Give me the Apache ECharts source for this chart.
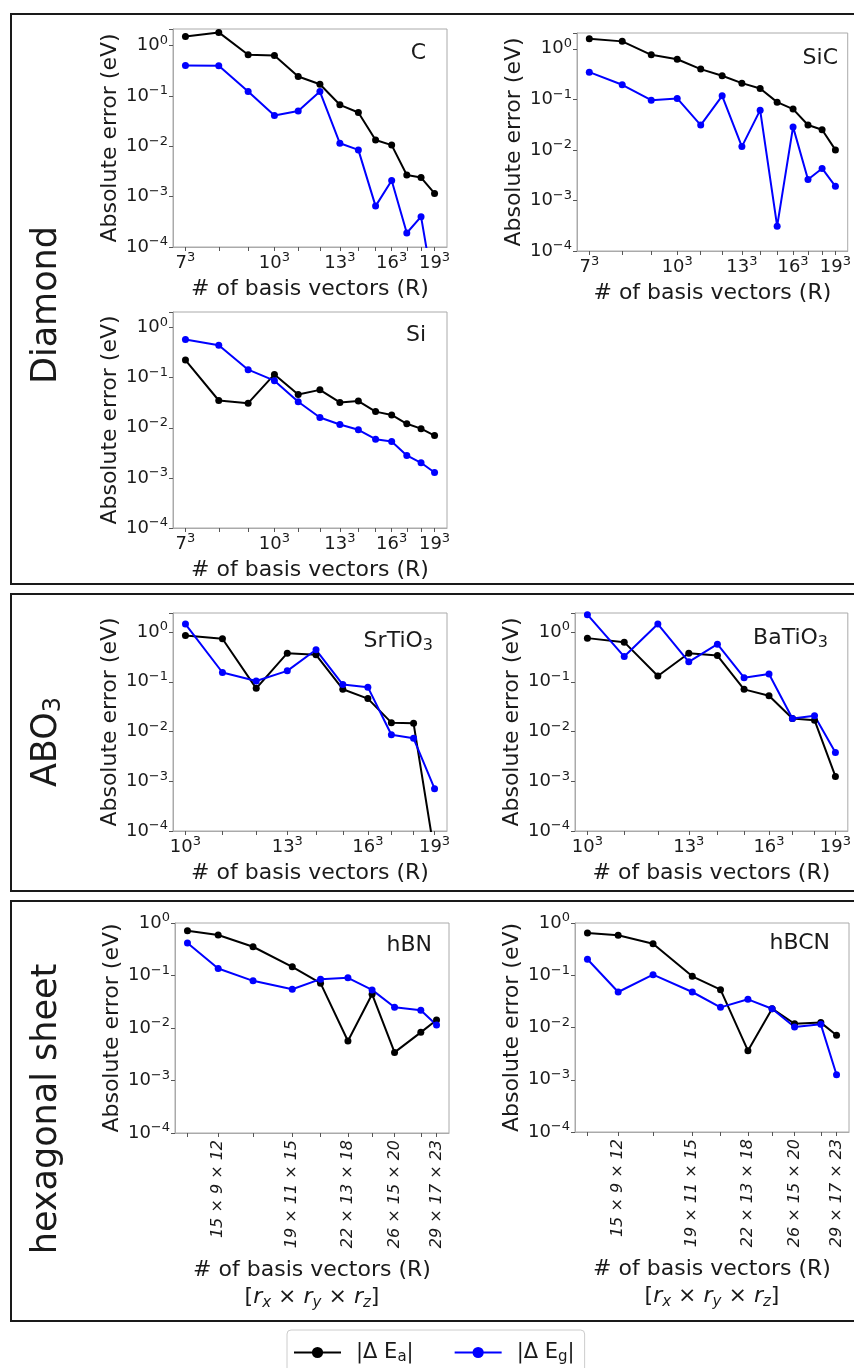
<!DOCTYPE html>
<html>
<head>
<meta charset="utf-8">
<script src="https://cdn.jsdelivr.net/npm/echarts@6/dist/echarts.min.js"></script>
<style>
  html, body { margin: 0; padding: 0; background: #fff; }
  #chart { width: 854px; height: 1368px; }
</style>
</head>
<body>
<div id="chart"></div>
<script>
// basis sizes: cubic cells use R = n^3
var diamondN = [7, 8, 9, 10, 11, 12, 13, 14, 15, 16, 17, 18, 19];
var diamondLabelN = [7, 10, 13, 16, 19];
var aboN = [10, 11, 12, 13, 14, 15, 16, 17, 18, 19];
var aboLabelN = [10, 13, 16, 19];
// hexagonal sheets use R = rx * ry * rz
var hexGrids = [[14, 8, 11], [15, 9, 12], [17, 10, 13], [19, 11, 15], [21, 12, 16],
                [22, 13, 18], [24, 14, 19], [26, 15, 20], [28, 16, 22], [29, 17, 23]];
var hexLabelIdx = [1, 3, 5, 7, 9];

// |dE_a| (black) and |dE_g| (blue), eV
var cEa = [1.53, 1.84, 0.66, 0.64, 0.245, 0.172, 0.067, 0.047, 0.0134, 0.0106, 0.0027, 0.0024, 0.00116];
var cEg = [0.405, 0.40, 0.123, 0.041, 0.0506, 0.123, 0.0115, 0.0085, 0.00065, 0.0021, 0.00019, 0.0004, 0.000011];
var sicEa = [1.58, 1.40, 0.76, 0.62, 0.396, 0.292, 0.209, 0.164, 0.088, 0.064, 0.031, 0.025, 0.010];
var sicEg = [0.345, 0.194, 0.096, 0.104, 0.031, 0.117, 0.0116, 0.061, 0.00031, 0.0285, 0.0026, 0.0043, 0.0019];
var siEa = [0.224, 0.035, 0.031, 0.116, 0.046, 0.057, 0.032, 0.034, 0.021, 0.018, 0.012, 0.0096, 0.0070];
var siEg = [0.577, 0.445, 0.144, 0.087, 0.033, 0.016, 0.0116, 0.0091, 0.0059, 0.0053, 0.0028, 0.0020, 0.00128];
var srEa = [0.857, 0.734, 0.074, 0.377, 0.349, 0.071, 0.046, 0.0151, 0.0146, 0.000035];
var srEg = [1.45, 0.154, 0.104, 0.166, 0.44, 0.088, 0.078, 0.0086, 0.0073, 0.00071];
var baEa = [0.756, 0.628, 0.131, 0.376, 0.338, 0.0705, 0.0526, 0.0183, 0.0169, 0.00125];
var baEg = [2.24, 0.322, 1.45, 0.252, 0.572, 0.121, 0.144, 0.0183, 0.0207, 0.00377];
var hbnEa = [0.714, 0.590, 0.353, 0.146, 0.0714, 0.00565, 0.044, 0.00343, 0.00826, 0.0142];
var hbnEg = [0.415, 0.136, 0.0791, 0.0548, 0.0851, 0.0902, 0.0532, 0.0248, 0.0218, 0.0114];
var hbcnEa = [0.644, 0.581, 0.402, 0.0953, 0.053, 0.0036, 0.0229, 0.0118, 0.0124, 0.00708];
var hbcnEg = [0.202, 0.0478, 0.1026, 0.0478, 0.0243, 0.0346, 0.0229, 0.0102, 0.0115, 0.00125];

var FONT = 'DejaVu Sans';
var INK = '#1a1a1a';

// rich styles for exponents / subscripts
var supRich = {
  b: { fontSize: 18, fontFamily: FONT, color: INK, lineHeight: 22 },
  s: { fontSize: 13, fontFamily: FONT, color: INK, lineHeight: 12, padding: [0, 0, 10, 0] }
};
function subRich(base, sub, drop) {
  return {
    b: { fontSize: base, fontFamily: FONT, color: INK, lineHeight: base + 5 },
    s: { fontSize: sub, fontFamily: FONT, color: INK, lineHeight: sub, padding: [drop, 0, 0, 0] }
  };
}

function cubeAxis(ns, labelNs) {
  return {
    xs: ns.map(function (n) { return Math.log10(n * n * n); }),
    labelXs: labelNs.map(function (n) { return Math.log10(n * n * n); }),
    labels: labelNs.map(function (n) { return '{b|' + n + '}{s|3}'; }),
    hex: false
  };
}
function hexAxis() {
  var xs = hexGrids.map(function (g) { return Math.log10(g[0] * g[1] * g[2]); });
  return {
    xs: xs,
    labelXs: hexLabelIdx.map(function (i) { return xs[i]; }),
    labels: hexLabelIdx.map(function (i) { return hexGrids[i].join(' × '); }),
    hex: true
  };
}
var diamondAx = cubeAxis(diamondN, diamondLabelN);
var aboAx = cubeAxis(aboN, aboLabelN);
var hexAx = hexAxis();

var panels = [
  { title: 'C', tx: 426, ty: 53, grid: { left: 173, top: 29, width: 274, height: 218 }, ax: diamondAx, ea: cEa, eg: cEg, yMax: 2.15 },
  { title: 'SiC', tx: 838, ty: 58, grid: { left: 577, top: 33, width: 274, height: 218 }, ax: diamondAx, ea: sicEa, eg: sicEg, yMax: 2.05 },
  { title: 'Si', tx: 426, ty: 335, grid: { left: 173, top: 312, width: 274, height: 216 }, ax: diamondAx, ea: siEa, eg: siEg, yMax: 2.04 },
  { title: '{b|SrTiO}{s|3}', tx: 433, ty: 641, grid: { left: 173, top: 613, width: 274, height: 218 }, ax: aboAx, ea: srEa, eg: srEg, yMax: 2.42 },
  { title: '{b|BaTiO}{s|3}', tx: 828, ty: 638, grid: { left: 575, top: 613, width: 273, height: 218 }, ax: aboAx, ea: baEa, eg: baEg, yMax: 2.42 },
  { title: 'hBN', tx: 432, ty: 945, grid: { left: 175, top: 923, width: 274, height: 210 }, ax: hexAx, ea: hbnEa, eg: hbnEg, yMax: 1 },
  { title: 'hBCN', tx: 830, ty: 943, grid: { left: 575, top: 923, width: 274, height: 209 }, ax: hexAx, ea: hbcnEa, eg: hbcnEg, yMax: 1 }
];

function yLabel(v) {
  var p = Math.log10(v);
  var e = Math.round(p);
  if (Math.abs(p - e) > 1e-6) return '';
  return '{b|10}{s|' + (e < 0 ? '−' + (-e) : e) + '}';
}

var grids = [], xAxes = [], yAxes = [], series = [], graphics = [];

panels.forEach(function (p, i) {
  var ax = p.ax;
  var lo = ax.xs[0], hi = ax.xs[ax.xs.length - 1], pad = (hi - lo) * 0.05;
  grids.push(Object.assign({ show: true, borderColor: '#aaa', borderWidth: 1 }, p.grid));
  xAxes.push({
    type: 'value', gridIndex: i, min: lo - pad, max: hi + pad,
    splitLine: { show: false },
    axisLine: { onZero: false, lineStyle: { color: '#aaa', width: 1 } },
    axisTick: { customValues: ax.xs, length: 4, lineStyle: { color: '#555' } },
    axisLabel: {
      customValues: ax.labelXs,
      formatter: function (v) {
        for (var k = 0; k < ax.labelXs.length; k++) {
          if (Math.abs(ax.labelXs[k] - v) < 1e-6) return ax.labels[k];
        }
        return '';
      },
      rotate: ax.hex ? 90 : 0,
      fontStyle: ax.hex ? 'italic' : 'normal',
      fontSize: ax.hex ? 16 : 18, fontFamily: FONT, color: INK, margin: ax.hex ? 7 : 5,
      rich: supRich
    },
    name: ax.hex ? '# of basis vectors (R)\n[{i|r}{s|x} × {i|r}{s|y} × {i|r}{s|z}]' : '# of basis vectors (R)',
    nameLocation: 'middle',
    nameGap: ax.hex ? 124 : 24,
    nameTextStyle: {
      fontSize: 22, fontFamily: FONT, color: INK, lineHeight: 27,
      rich: {
        i: { fontSize: 22, fontStyle: 'italic', fontFamily: FONT, color: INK, lineHeight: 27 },
        s: { fontSize: 15, fontStyle: 'italic', fontFamily: FONT, color: INK, lineHeight: 15, padding: [12, 0, 0, 0] }
      }
    }
  });
  yAxes.push({
    type: 'log', logBase: 10, gridIndex: i, min: 0.0001, max: p.yMax,
    splitLine: { show: false },
    axisLine: { show: true, lineStyle: { color: '#aaa', width: 1 } },
    axisTick: { show: true, length: 4, lineStyle: { color: '#555' } },
    axisLabel: { formatter: yLabel, fontSize: 18, fontFamily: FONT, color: INK, margin: 5, rich: supRich },
    name: 'Absolute error (eV)',
    nameLocation: 'middle',
    nameGap: 52,
    nameTextStyle: { fontSize: 22, fontFamily: FONT, color: INK }
  });
  [['Ea', p.ea, '#000000'], ['Eg', p.eg, '#0000ff']].forEach(function (s) {
    series.push({
      type: 'line', name: s[0], xAxisIndex: i, yAxisIndex: i,
      data: ax.xs.map(function (x, k) { return [x, s[1][k]]; }),
      symbol: 'circle', symbolSize: 7, clip: true,
      lineStyle: { width: 2, color: s[2] },
      itemStyle: { color: s[2] },
      emphasis: { disabled: true }
    });
  });
  graphics.push({
    type: 'text', x: p.tx, y: p.ty, silent: true,
    style: {
      text: p.title, font: '22px "DejaVu Sans"', fill: INK,
      textAlign: 'right', textVerticalAlign: 'middle', rich: subRich(22, 16, 9)
    }
  });
});

// section frames and labels
[[14, 570], [594, 297], [901, 420]].forEach(function (b) {
  graphics.push({
    type: 'rect', silent: true,
    shape: { x: 11, y: b[0], width: 870, height: b[1] },
    style: { fill: 'none', stroke: INK, lineWidth: 2 }
  });
});
[['Diamond', 305], ['{b|ABO}{s|3}', 742], ['hexagonal sheet', 1109]].forEach(function (t) {
  graphics.push({
    type: 'text', x: 47, y: t[1], rotation: Math.PI / 2, silent: true,
    style: {
      text: t[0], font: '35px "DejaVu Sans"', fill: INK,
      textAlign: 'center', textVerticalAlign: 'middle', rich: subRich(35, 24, 14)
    }
  });
});

var chart = echarts.init(document.getElementById('chart'));
chart.setOption({
  animation: false,
  backgroundColor: '#fff',
  grid: grids,
  xAxis: xAxes,
  yAxis: yAxes,
  series: series,
  graphic: graphics,
  legend: {
    data: ['Ea', 'Eg'],
    left: 287, top: 1330,
    itemWidth: 47, itemHeight: 14, itemGap: 40,
    padding: [10, 10, 10, 6],
    borderColor: '#ccc', borderWidth: 1, borderRadius: 4,
    formatter: function (name) {
      return name === 'Ea' ? '|Δ E{s|a}|' : '|Δ E{s|g}|';
    },
    textStyle: {
      fontSize: 21, fontFamily: FONT, color: INK, padding: [0, 0, 0, 10],
      rich: { s: { fontSize: 15, fontFamily: FONT, color: INK, lineHeight: 15, padding: [10, 0, 0, 0] } }
    }
  }
});
</script>
</body>
</html>
